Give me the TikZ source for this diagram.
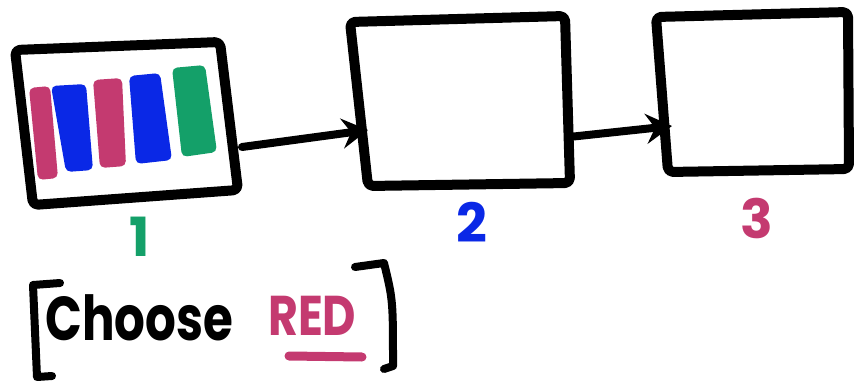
\documentclass[tikz,border=0pt]{standalone}
\usepackage{fontspec}
\setmainfont{Poppins}
\usetikzlibrary{arrows.meta}
\definecolor{mkpink}{RGB}{196,58,112}
\definecolor{mkblue}{RGB}{10,40,230}
\definecolor{mkgreen}{RGB}{20,160,105}
\tikzset{
  frame/.style={draw=black, line width=10pt, rounded corners=5pt, line join=round},
  bar/.style={line width=0pt, rounded corners=5pt},
  link/.style={draw=black, line width=8pt, line cap=round, -{Stealth[length=26pt,width=30pt,inset=9pt]}},
  digit/.style={font=\fontsize{54}{54}\selectfont\bfseries, inner sep=0pt},
  pen/.style={line width=8pt, line cap=round, line join=round}
}
\begin{document}
\begin{tikzpicture}[x=1pt,y=-1pt]
\useasboundingbox (0,0) rectangle (861,385);
% box 1
\coordinate (b1a) at (15,50);
\coordinate (b1b) at (220,42);
\coordinate (b1c) at (238,190);
\coordinate (b1d) at (33,205);
\draw[frame] (b1a) -- (b1b) -- (b1c) -- (b1d) -- cycle;
% bars
\fill[mkpink,bar] (29,88) -- (50,86) -- (58,178) -- (38,180) -- cycle;
\fill[mkblue,bar] (51,86) -- (86,84) -- (93,170) -- (66,172) -- cycle;
\fill[mkpink,bar] (93,80) -- (122,78) -- (126,166) -- (100,168) -- cycle;
\fill[mkblue,bar] (129,76) -- (160,73) -- (172,160) -- (136,164) -- cycle;
\fill[mkgreen,bar] (172,68) -- (205,65) -- (217,152) -- (182,157) -- cycle;
% box 2
\draw[frame] (350,22) -- (565,16) -- (570,183) -- (368,186) -- cycle;
% box 3
\draw[frame] (656,17) -- (848,12) -- (849,169) -- (668,172) -- cycle;
% connector anchors
\coordinate (o1) at (242,147);
\coordinate (i2) at (368,130);
\coordinate (o2) at (569,137);
\coordinate (i3) at (672,126);
\draw[link] (o1) -- (i2);
\draw[link] (o2) -- (i3);
% labels
\node[digit, text=mkgreen] (l1) at (140,237) {1};
\node[digit, text=mkblue] (l2) at (472,222) {2};
\node[digit, text=mkpink] (l3) at (757,218) {3};
% brackets
\draw[pen] (60,283) -- (33,285) -- (37,377) -- (52,376);
\draw[pen] (355,267) -- (384,263) .. controls (393,300) .. (393,366) -- (384,369);
% text
\node[inner sep=0pt, anchor=west, font=\fontsize{62}{62}\selectfont\bfseries] (choose) at (45,318) {\scalebox{0.78}[1]{Choose}};
\node[inner sep=0pt, anchor=west, text=mkpink, font=\fontsize{56}{56}\selectfont\bfseries] (red) at (268,316) {\scalebox{0.82}[1]{RED}};
\draw[mkpink, line width=9pt, line cap=round] (289,356) -- (362,357);
\end{tikzpicture}
\end{document}
